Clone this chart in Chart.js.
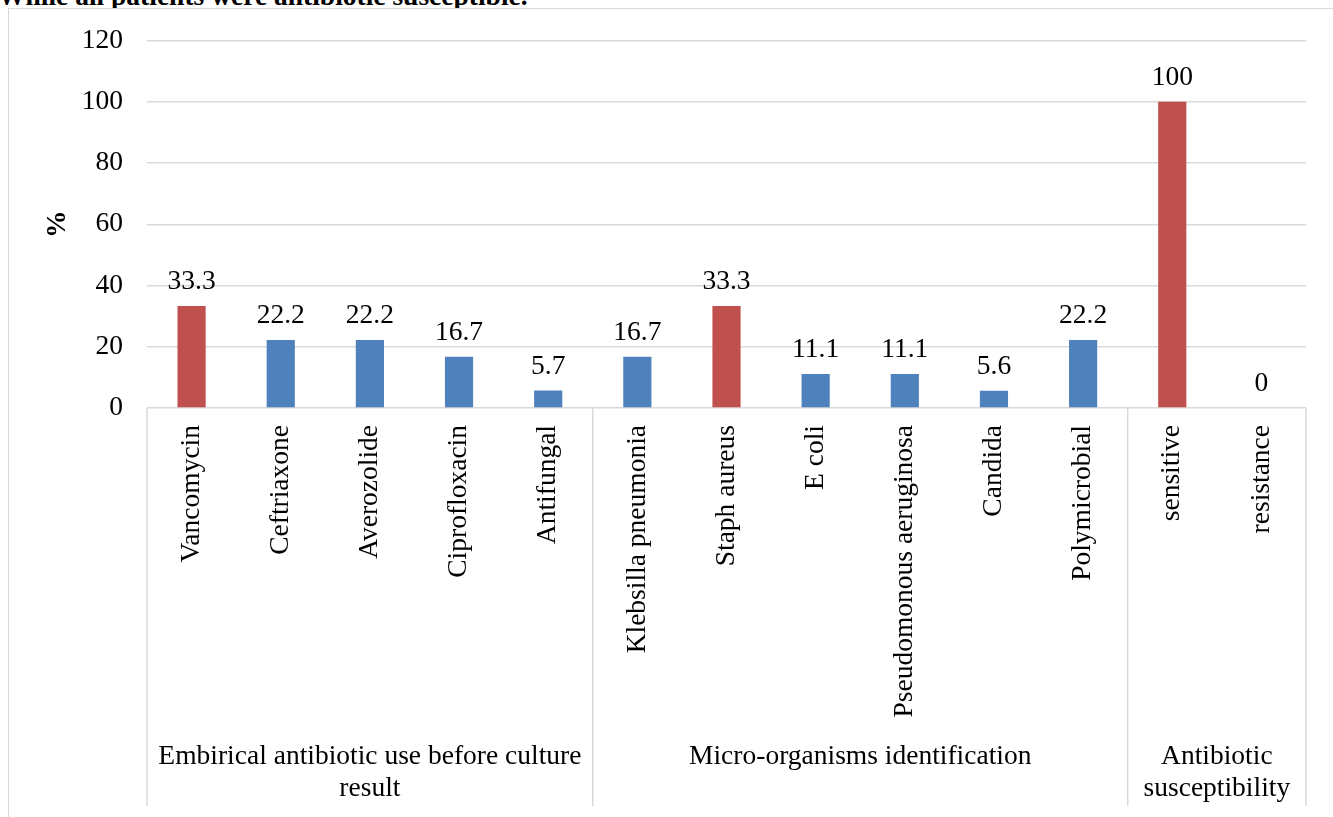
<!DOCTYPE html>
<html>
<head>
<meta charset="utf-8">
<script src="https://cdn.jsdelivr.net/npm/chart.js@4.4.1/dist/chart.umd.min.js"></script>
<style>
  html, body { margin: 0; padding: 0; background: #ffffff; overflow: hidden; }
  #wrap { position: relative; width: 1333px; height: 817px; overflow: hidden; }
  #lead {
    position: absolute; left: -2px; top: -19px; z-index: 0;
    font: bold 27.5px "Liberation Serif", "Times New Roman", serif;
    color: #000; white-space: nowrap; line-height: 30px;
  }
  #frame {
    position: absolute; left: 8px; top: 8px; width: 1400px; height: 900px; z-index: 1;
    background: #ffffff; border: 1.5px solid #d9d9d9;
  }
  #chart { position: absolute; left: 0; top: 0; z-index: 2; }
</style>
</head>
<body>
<div id="wrap">
  <div id="lead">While all patients were antibiotic susceptible.</div>
  <div id="frame"></div>
  <canvas id="chart" width="1333" height="817"></canvas>
</div>
<script>
// Bar categories, one per column
const categories = [
  'Vancomycin', 'Ceftriaxone', 'Averozolide', 'Ciprofloxacin', 'Antifungal',
  'Klebsilla pneumonia', 'Staph aureus', 'E coli', 'Pseudomonous aeruginosa', 'Candida', 'Polymicrobial',
  'sensitive', 'resistance'
];
// Percentages for each category
const values = [33.3, 22.2, 22.2, 16.7, 5.7, 16.7, 33.3, 11.1, 11.1, 5.6, 22.2, 100, 0];
// Which bars are highlighted (red) versus plain (blue)
const highlighted = [true, false, false, false, false, false, true, false, false, false, false, true, false];
// Outer category groups: lines of each group caption and how many bars each spans
const groupLines = [
  ['Embirical antibiotic use before culture', 'result'],
  ['Micro-organisms identification'],
  ['Antibiotic', 'susceptibility']
];
const groupSizes = [5, 6, 2];
// Value axis ticks
const yMin = 0, yMax = 120, yStep = 20;

const RED = '#C0504D';
const BLUE = '#4F81BD';
const GRID = '#d9d9d9';
const FONT = '"Liberation Serif", "Times New Roman", serif';
const FS = 27.5;

// Writes each bar's value above it
const valueLabels = {
  id: 'valueLabels',
  afterDatasetsDraw(chart) {
    const ctx = chart.ctx;
    const meta = chart.getDatasetMeta(0);
    ctx.save();
    ctx.font = FS + 'px ' + FONT;
    ctx.fillStyle = '#000';
    ctx.textAlign = 'center';
    ctx.textBaseline = 'alphabetic';
    meta.data.forEach((bar, i) => {
      ctx.fillText(String(values[i]), bar.x, bar.y - 17);
    });
    ctx.restore();
  }
};

// Draws the outer group captions and the separators between groups
const groupAxis = {
  id: 'groupAxis',
  afterDraw(chart) {
    const ctx = chart.ctx;
    const xs = chart.scales.x;
    const area = chart.chartArea;
    const bottom = 806;
    const edges = [area.left];
    let idx = 0;
    groupSizes.forEach((n) => {
      idx += n;
      if (idx < categories.length) {
        edges.push((xs.getPixelForValue(idx - 1) + xs.getPixelForValue(idx)) / 2);
      } else {
        edges.push(area.right);
      }
    });
    ctx.save();
    ctx.strokeStyle = GRID;
    ctx.lineWidth = 1.5;
    edges.forEach(x => {
      ctx.beginPath();
      ctx.moveTo(x, area.bottom);
      ctx.lineTo(x, bottom);
      ctx.stroke();
    });
    ctx.font = FS + 'px ' + FONT;
    ctx.fillStyle = '#000';
    ctx.textAlign = 'center';
    ctx.textBaseline = 'middle';
    groupLines.forEach((lines, g) => {
      const cx = (edges[g] + edges[g + 1]) / 2;
      lines.forEach((t, k) => {
        ctx.fillText(t, cx, 757 + k * 32);
      });
    });
    ctx.restore();
  }
};

new Chart(document.getElementById('chart'), {
  type: 'bar',
  data: {
    labels: categories,
    datasets: [{
      data: values,
      backgroundColor: highlighted.map(h => h ? RED : BLUE),
      borderWidth: 0,
      categoryPercentage: 1,
      barPercentage: 0.316
    }]
  },
  options: {
    responsive: false,
    animation: false,
    devicePixelRatio: 1,
    layout: { padding: { left: 0, top: 39, right: 27, bottom: 0 } },
    plugins: { legend: { display: false }, tooltip: { enabled: false } },
    scales: {
      x: {
        grid: { display: false, drawTicks: false },
        border: { display: false },
        ticks: {
          autoSkip: false, minRotation: 90, maxRotation: 90, padding: 17,
          color: '#000', font: { family: FONT, size: FS }
        },
        afterFit(scale) { scale.height = 409; }
      },
      y: {
        min: yMin, max: yMax,
        grid: { color: GRID, lineWidth: 1.5, drawTicks: false },
        border: { display: false },
        ticks: {
          stepSize: yStep, padding: 24, color: '#000',
          font: { family: FONT, size: FS }
        },
        title: {
          display: true, text: '%', color: '#000',
          font: { family: FONT, size: FS, weight: 'bold' },
          padding: { top: 41, bottom: 0 }
        },
        afterFit(scale) { scale.width = 147; }
      }
    }
  },
  plugins: [valueLabels, groupAxis]
});
</script>
</body>
</html>
